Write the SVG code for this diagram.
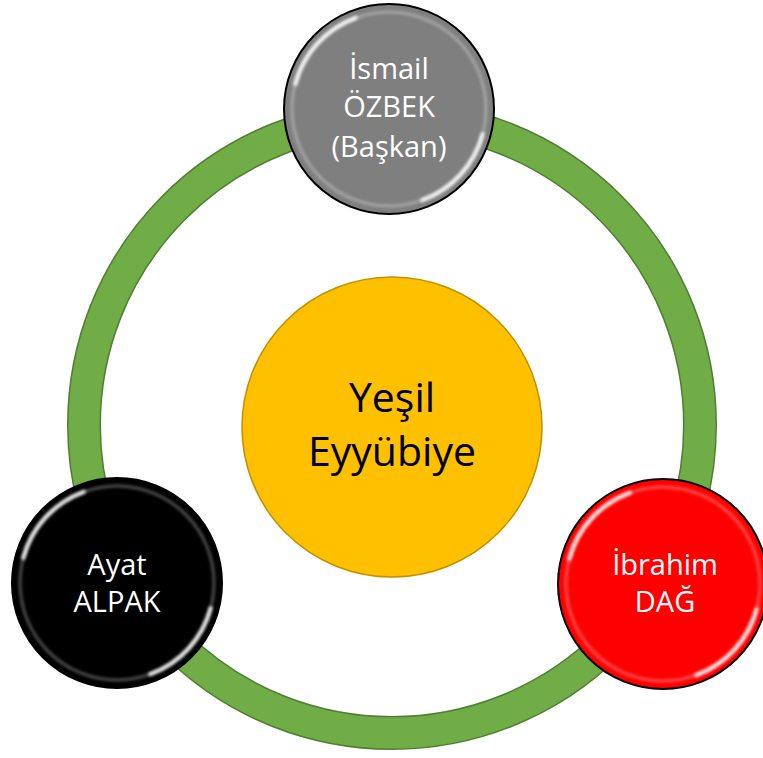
<svg xmlns="http://www.w3.org/2000/svg" width="763" height="758" viewBox="0 0 763 758">
  <style>
    .lbl { font-family: "Open Sans", "Noto Sans", sans-serif; font-size: 29px; fill: #ffffff; text-anchor: middle; }
    .hub { font-family: "Open Sans", "Noto Sans", sans-serif; font-size: 41px; fill: #000000; text-anchor: middle; }
    .orb { stroke: #000000; stroke-width: 2; }
    .gloss { fill: none; stroke: #ffffff; stroke-linecap: round; filter: url(#soft); }
  </style>
  <defs>
    <filter id="soft" x="-20%" y="-20%" width="140%" height="140%">
      <feGaussianBlur stdDeviation="1.6"/>
    </filter>
    <!-- bevel highlights for a 105px orb centred at the origin -->
    <g id="shine">
      <circle r="97" class="gloss" stroke-width="3" opacity="0.3"/>
      <path d="M -93.7 -25.1 A 97 97 0 0 1 -33.2 -91.2" class="gloss" stroke-width="4" opacity="0.9"/>
      <path d="M 93.7 25.1 A 97 97 0 0 1 33.2 91.2" class="gloss" stroke-width="4" opacity="0.9"/>
    </g>
  </defs>

  <!-- connectors: the ring joining the members -->
  <g id="connectors">
    <circle cx="392" cy="425" r="308" fill="none" stroke="#507E32" stroke-width="34"/>
    <circle cx="392" cy="425" r="308" fill="none" stroke="#70AD47" stroke-width="31"/>
  </g>

  <g id="node-center">
    <circle cx="392" cy="427" r="150" fill="#FFC000" stroke="#BF9000" stroke-width="1.5"/>
    <text class="hub" x="392" y="412">Yeşil</text>
    <text class="hub" x="392" y="466">Eyyübiye</text>
  </g>

  <g id="node-top" transform="translate(389 109)">
    <circle r="105" fill="#7F7F7F" class="orb"/>
    <use href="#shine"/>
    <text class="lbl" x="0" y="-30">İsmail</text>
    <text class="lbl" x="0" y="8">ÖZBEK</text>
    <text class="lbl" x="0" y="48">(Başkan)</text>
  </g>

  <g id="node-left" transform="translate(117 583)">
    <circle r="105" fill="#000000" class="orb"/>
    <use href="#shine"/>
    <text class="lbl" x="0" y="-8">Ayat</text>
    <text class="lbl" x="0" y="29">ALPAK</text>
  </g>

  <g id="node-right" transform="translate(663 584)">
    <circle r="105" fill="#FF0000" class="orb"/>
    <use href="#shine"/>
    <text class="lbl" x="2" y="-9">İbrahim</text>
    <text class="lbl" x="2" y="28">DAĞ</text>
  </g>
</svg>
